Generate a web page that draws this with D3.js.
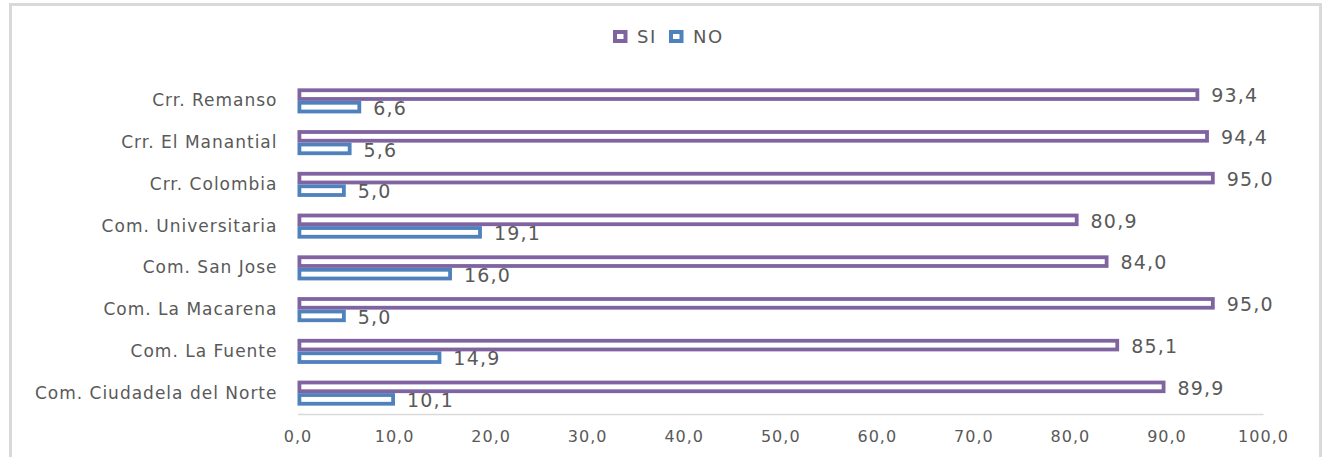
<!DOCTYPE html>
<html>
<head>
<meta charset="utf-8">
<script src="https://cdn.jsdelivr.net/npm/d3@7"></script>
<style>
  body { margin: 0; background: #fff; }
  text { font-family: "DejaVu Sans", sans-serif; fill: #595959; }
</style>
</head>
<body>
<svg class="chart"></svg>
<script>
// data
var categories = ["Crr. Remanso", "Crr. El Manantial", "Crr. Colombia", "Com. Universitaria",
                  "Com. San Jose", "Com. La Macarena", "Com. La Fuente", "Com. Ciudadela del Norte"];
var siValues = [93.4, 94.4, 95.0, 80.9, 84.0, 95.0, 85.1, 89.9];
var noValues = [6.6, 5.6, 5.0, 19.1, 16.0, 5.0, 14.9, 10.1];
var seriesNames = ["SI", "NO"];
var seriesColors = ["#8064a2", "#4f81bd"];
var xTicks = [0, 10, 20, 30, 40, 50, 60, 70, 80, 90, 100];

var svgWidth = 1324, svgHeight = 457;
var margin = {top: 80, right: 61, bottom: 43, left: 297.5};
var width = svgWidth - margin.left - margin.right;
var height = svgHeight - margin.top - margin.bottom;
var fmt = function(v) { return v.toFixed(1).replace(".", ","); };

var svg = d3.select(".chart")
    .attr("width", svgWidth)
    .attr("height", svgHeight);

// chart frame
svg.append("rect")
    .attr("x", 10.5)
    .attr("y", 4.5)
    .attr("width", 1310)
    .attr("height", 470)
    .attr("fill", "none")
    .attr("stroke", "#d9d9d9")
    .attr("stroke-width", 3);

var g = svg.append("g")
    .attr("transform", "translate(" + margin.left + "," + margin.top + ")");

var x = d3.scaleLinear()
    .domain([0, 100])
    .range([0, width]);

var y = d3.scaleBand()
    .domain(categories)
    .range([0, height])
    .paddingInner(0.4)
    .paddingOuter(0.2);

var inner = d3.scaleBand()
    .domain(seriesNames)
    .range([0, y.bandwidth()]);

// x axis
var xAxis = g.append("g")
    .attr("class", "axis axis-x")
    .attr("transform", "translate(0," + height + ")")
    .call(d3.axisBottom(x).tickValues(xTicks).tickFormat(fmt).tickSize(0).tickPadding(17));
xAxis.select(".domain").attr("stroke", "#d9d9d9").attr("stroke-width", 1.5);
xAxis.selectAll("text")
    .style("font-size", "16px")
    .style("letter-spacing", "1px")
    .style("fill", "#595959")
    .style("font-family", "'DejaVu Sans', sans-serif");

// category labels
var yAxis = g.append("g")
    .attr("class", "axis axis-y")
    .call(d3.axisLeft(y).tickSize(0).tickPadding(20));
yAxis.select(".domain").remove();
yAxis.selectAll("text")
    .style("font-size", "17px")
    .style("letter-spacing", "1px")
    .style("fill", "#595959")
    .style("font-family", "'DejaVu Sans', sans-serif");

var rows = categories.map(function(c, i) {
  return {cat: c, values: [siValues[i], noValues[i]]};
});

var sw = 3.8;
var groups = g.selectAll(".row")
    .data(rows)
    .enter().append("g")
    .attr("class", "row")
    .attr("transform", function(d) { return "translate(0," + y(d.cat) + ")"; });

groups.selectAll("rect")
    .data(function(d) { return d.values.map(function(v, k) { return {name: seriesNames[k], k: k, v: v}; }); })
    .enter().append("rect")
    .attr("x", sw / 2)
    .attr("y", function(d) { return inner(d.name) + sw / 2; })
    .attr("width", function(d) { return x(d.v) - sw; })
    .attr("height", inner.bandwidth() - sw)
    .attr("fill", "#fff")
    .attr("stroke", function(d) { return seriesColors[d.k]; })
    .attr("stroke-width", sw);

groups.selectAll(".val")
    .data(function(d) { return d.values.map(function(v, k) { return {name: seriesNames[k], k: k, v: v}; }); })
    .enter().append("text")
    .attr("class", "val")
    .attr("x", function(d) { return x(d.v) + 12; })
    .attr("y", function(d) { return inner(d.name) + inner.bandwidth() / 2 + 1; })
    .attr("dy", "0.35em")
    .style("font-size", "19px")
    .style("letter-spacing", "1.2px")
    .text(function(d) { return fmt(d.v); });

// legend
var legend = svg.append("g")
    .attr("transform", "translate(613,30)");
var items = legend.selectAll(".item")
    .data(seriesNames)
    .enter().append("g")
    .attr("class", "item")
    .attr("transform", function(d, i) { return "translate(" + (i * 56) + ",0)"; });
items.append("rect")
    .attr("x", 2).attr("y", 2)
    .attr("width", 10.5).attr("height", 9)
    .attr("fill", "#fff")
    .attr("stroke", function(d, i) { return seriesColors[i]; })
    .attr("stroke-width", 4);
items.append("text")
    .attr("x", 24)
    .attr("y", 6.5)
    .attr("dy", "0.35em")
    .style("font-size", "18px")
    .style("letter-spacing", "1.5px")
    .text(function(d) { return d; });
</script>
</body>
</html>
